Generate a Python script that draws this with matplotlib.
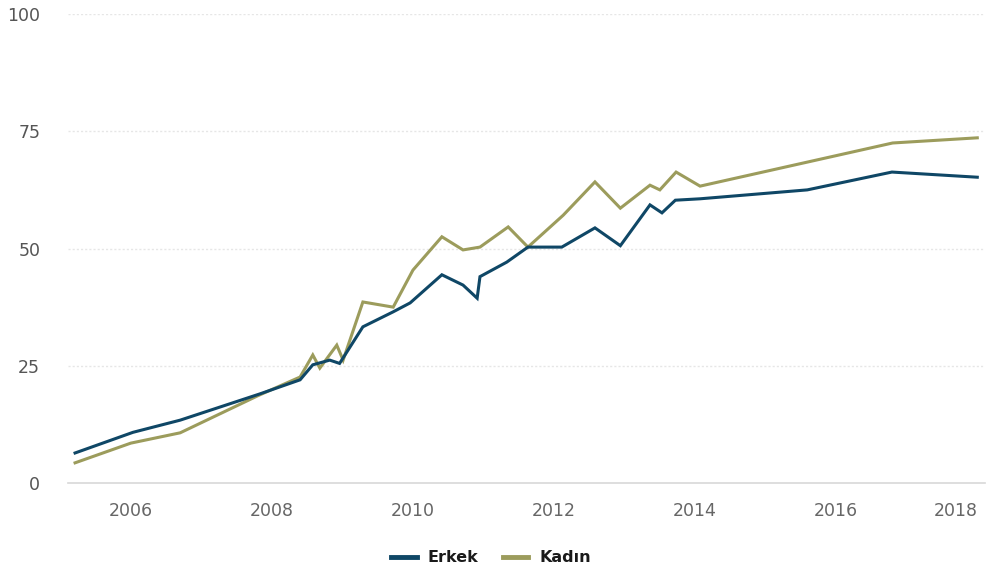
import matplotlib
matplotlib.use("Agg")
import matplotlib.pyplot as plt
from matplotlib.lines import Line2D

# Erkek series (decimal year, percent)
erkek_x = [2005.21, 2006.03, 2006.70, 2007.83, 2008.40, 2008.58, 2008.82, 2008.96,
           2009.29, 2009.72, 2009.96, 2010.41, 2010.71, 2010.91, 2010.95, 2011.33,
           2011.63, 2012.11, 2012.58, 2012.94, 2013.36, 2013.53, 2013.72, 2014.07,
           2015.59, 2016.79, 2018.00]
erkek_y = [6.4, 10.8, 13.4, 19.0, 22.0, 25.2, 26.2, 25.5,
           33.3, 36.5, 38.4, 44.4, 42.2, 39.4, 44.0, 47.1,
           50.3, 50.3, 54.4, 50.6, 59.3, 57.6, 60.3, 60.6,
           62.5, 66.3, 65.2]

# Kadın series (decimal year, percent)
kadin_x = [2005.21, 2006.00, 2006.70, 2007.80, 2008.40, 2008.58, 2008.68, 2008.92,
           2009.01, 2009.29, 2009.72, 2010.00, 2010.41, 2010.71, 2010.95, 2011.35,
           2011.63, 2012.13, 2012.58, 2012.94, 2013.36, 2013.50, 2013.73, 2014.07,
           2016.80, 2018.00]
kadin_y = [4.3, 8.5, 10.7, 18.6, 22.6, 27.3, 24.5, 29.4,
           26.2, 38.6, 37.5, 45.4, 52.5, 49.7, 50.3, 54.6,
           50.3, 57.1, 64.2, 58.6, 63.5, 62.5, 66.3, 63.3,
           72.5, 73.6]

x_ticks = [2006, 2008, 2010, 2012, 2014, 2016, 2018]
y_ticks = [0, 25, 50, 75, 100]
series_names = ["Erkek", "Kadın"]

c_erkek = "#0f4766"
c_kadin = "#9c9c5c"

fig = plt.figure(figsize=(9.9, 5.72), dpi=100)
ax = fig.add_axes([0.0687, 0.1556, 0.9263, 0.8199])

ax.plot(erkek_x, erkek_y, color=c_erkek, lw=2.2, solid_joinstyle="miter", zorder=3)
ax.plot(kadin_x, kadin_y, color=c_kadin, lw=2.2, solid_joinstyle="miter", zorder=2)

ax.set_xlim(2005.11, 2018.11)
ax.set_ylim(0, 100)
ax.set_xticks(x_ticks)
ax.set_xticklabels([str(t) for t in x_ticks])
ax.set_yticks(y_ticks)
ax.set_yticklabels([str(t) for t in y_ticks])

for lab in ax.get_xticklabels():
    lab.set_fontsize(12.5)
    lab.set_color("#666666")
ax.get_xticklabels()[-1].set_horizontalalignment("right")
for lab in ax.get_yticklabels():
    lab.set_fontsize(12.5)
    lab.set_color("#555555")

ax.tick_params(axis="x", length=0, pad=14)
ax.tick_params(axis="y", length=0, pad=20)

for s in ["top", "right", "left"]:
    ax.spines[s].set_visible(False)
ax.spines["bottom"].set_color("#d8d8d8")
ax.spines["bottom"].set_linewidth(1.2)

for v in y_ticks[1:]:
    ax.axhline(v, color="#e6e6e6", lw=1.0, ls=(0, (1.5, 1.5)), zorder=0)

handles = [Line2D([0], [0], color=c_erkek, lw=3.5),
           Line2D([0], [0], color=c_kadin, lw=3.5)]
leg = fig.legend(handles, series_names, loc="center", bbox_to_anchor=(0.496, 0.025),
                 ncol=2, frameon=False, handlelength=1.6, columnspacing=1.5,
                 handletextpad=0.7, prop={"weight": "bold", "size": 11.5})
for t in leg.get_texts():
    t.set_color("#1a1a1a")

fig.savefig("out.png", dpi=100, facecolor="white")
